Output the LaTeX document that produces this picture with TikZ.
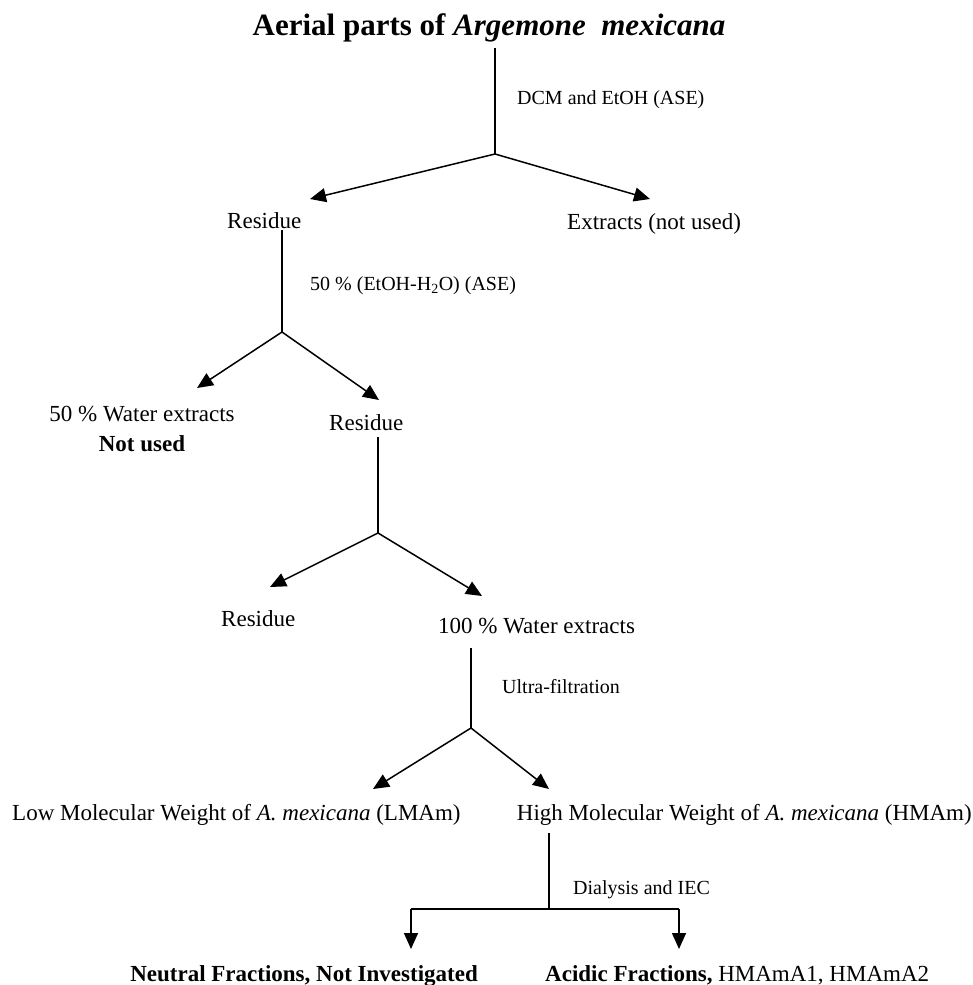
\documentclass[tikz,border=0pt]{standalone}
\usepackage{fontspec}
\setmainfont{Liberation Serif}
\usetikzlibrary{arrows.meta}
\tikzset{
  lbl/.style={inner sep=0pt, font=\fontsize{23}{27}\selectfont},
  sml/.style={inner sep=0pt, font=\fontsize{20}{24}\selectfont},
  ttl/.style={inner sep=0pt, font=\fontsize{31}{35}\selectfont\bfseries},
  ln/.style={line width=1.5pt},
  arr/.style={line width=1.5pt, -{Triangle[length=16pt,width=14pt]}}
}
\begin{document}
\begin{tikzpicture}[x=1pt,y=-1pt]
\useasboundingbox (0,0) rectangle (973,985);
% texts
\node[ttl, anchor=base] (title) at (489,35) {Aerial parts of \textit{Argemone\ \ mexicana}};
\node[sml, anchor=base west] (dcm) at (517,104) {DCM and EtOH (ASE)};
\node[lbl, anchor=base west] (res1) at (227,228) {Residue};
\node[lbl, anchor=base west] (ext) at (567,229) {Extracts (not used)};
\node[sml, anchor=base west] (eth) at (310,290) {50 \% (EtOH-H\textsubscript{2}O) (ASE)};
\node[lbl, anchor=base] (w50) at (142,421) {50 \% Water extracts};
\node[lbl, anchor=base] (nu) at (142,451) {\textbf{Not used}};
\node[lbl, anchor=base west] (res2) at (329,430) {Residue};
\node[lbl, anchor=base west] (res3) at (221,626) {Residue};
\node[lbl, anchor=base west] (w100) at (438,633) {100 \% Water extracts};
\node[sml, anchor=base west] (uf) at (502,693) {Ultra-filtration};
\node[lbl, anchor=base west] (lmam) at (12,820) {Low Molecular Weight of \textit{A. mexicana} (LMAm)};
\node[lbl, anchor=base east] (hmam) at (972,820) {High Molecular Weight of \textit{A. mexicana} (HMAm)};
\node[sml, anchor=base west] (dia) at (573,894) {Dialysis and IEC};
\node[lbl, anchor=base east] (neu) at (478,981) {\textbf{Neutral Fractions, Not Investigated}};
\node[lbl, anchor=base west] (aci) at (545,981) {\textbf{Acidic Fractions,} HMAmA1, HMAmA2};
% coordinates
\coordinate (s1) at (495,48);   \coordinate (j1) at (495,154);
\coordinate (t1a) at (310,199); \coordinate (t1b) at (650,199);
\coordinate (s2) at (282,230);  \coordinate (j2) at (282,332);
\coordinate (t2a) at (197,388); \coordinate (t2b) at (379,400);
\coordinate (s3) at (378,437);  \coordinate (j3) at (378,533);
\coordinate (t3a) at (270,587); \coordinate (t3b) at (482,596);
\coordinate (s4) at (471,648);  \coordinate (j4) at (471,728);
\coordinate (t4a) at (373,789); \coordinate (t4b) at (549,789);
\coordinate (s5) at (549,833);  \coordinate (j5) at (549,909);
\coordinate (b5a) at (411,909); \coordinate (b5b) at (679,909);
\coordinate (t5a) at (411,949); \coordinate (t5b) at (679,949);
% connectors
\draw[ln] (s1) -- (j1);
\draw[arr] (j1) -- (t1a);
\draw[arr] (j1) -- (t1b);
\draw[ln] (s2) -- (j2);
\draw[arr] (j2) -- (t2a);
\draw[arr] (j2) -- (t2b);
\draw[ln] (s3) -- (j3);
\draw[arr] (j3) -- (t3a);
\draw[arr] (j3) -- (t3b);
\draw[ln] (s4) -- (j4);
\draw[arr] (j4) -- (t4a);
\draw[arr] (j4) -- (t4b);
\draw[ln] (s5) -- (j5);
\draw[ln] (b5a) -- (b5b);
\draw[arr] (b5a) -- (t5a);
\draw[arr] (b5b) -- (t5b);
\end{tikzpicture}
\end{document}
